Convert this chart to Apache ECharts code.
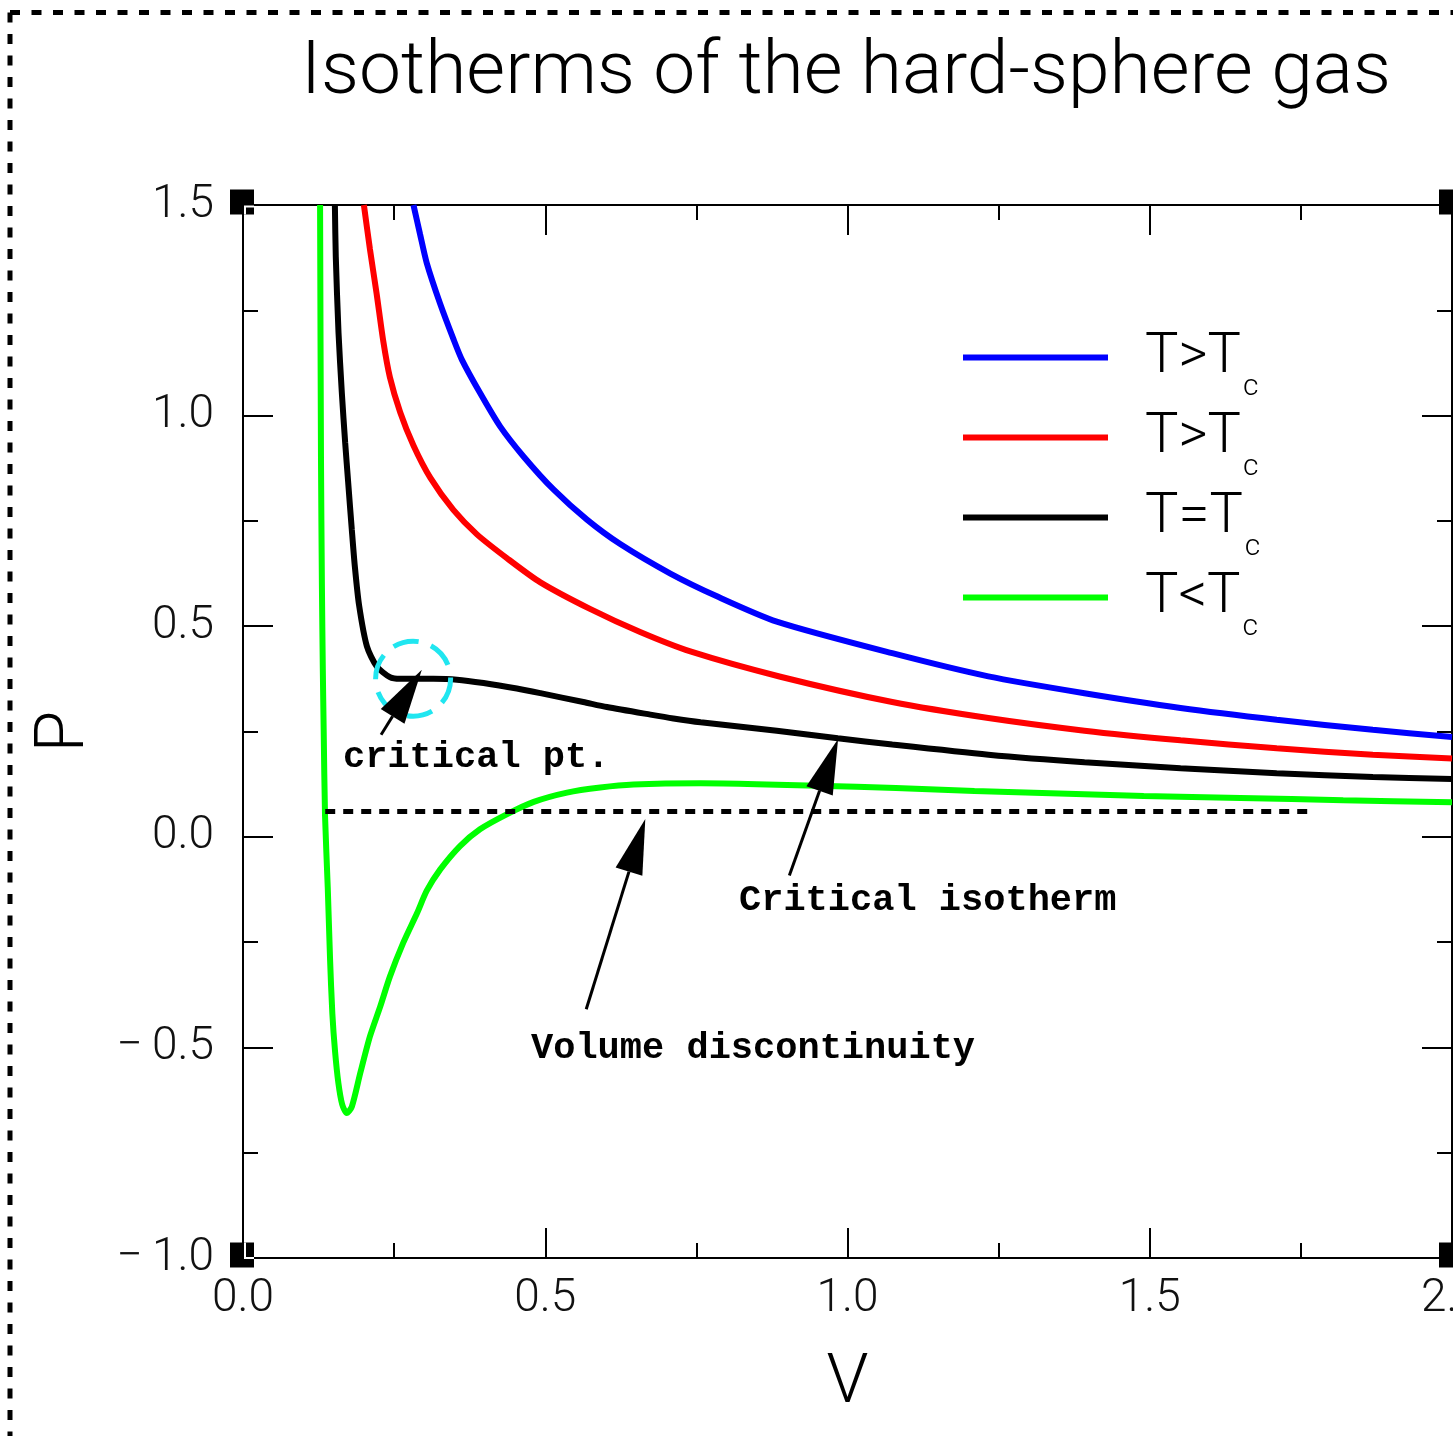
<!DOCTYPE html>
<html>
<head>
<meta charset="utf-8">
<title>Isotherms of the hard-sphere gas</title>
<script src="https://cdn.jsdelivr.net/npm/echarts@6/dist/echarts.min.js"></script>
<style>
  html, body { margin: 0; padding: 0; background: #fff; }
  #main { width: 1453px; height: 1436px; }
</style>
</head>
<body>
<div id="main"></div>
<script>
// isotherms: V (volume) and P (pressure)
var hotV  = [0.282, 0.293, 0.304, 0.326, 0.348, 0.362, 0.392, 0.425, 0.464, 0.514, 0.569, 0.624, 0.707, 0.784, 0.883, 1.074, 1.233, 1.392, 1.551, 1.710, 1.869, 2.0];
var hotP  = [1.5, 1.430, 1.362, 1.266, 1.182, 1.133, 1.054, 0.975, 0.903, 0.824, 0.753, 0.695, 0.625, 0.571, 0.511, 0.436, 0.381, 0.341, 0.306, 0.278, 0.254, 0.237];

var warmV = [0.200, 0.210, 0.221, 0.232, 0.243, 0.260, 0.282, 0.310, 0.348, 0.387, 0.437, 0.492, 0.574, 0.657, 0.740, 0.889, 1.074, 1.233, 1.392, 1.551, 1.710, 1.869, 2.0];
var warmP = [1.5, 1.395, 1.290, 1.177, 1.091, 1.008, 0.929, 0.852, 0.776, 0.718, 0.661, 0.604, 0.541, 0.486, 0.440, 0.380, 0.320, 0.282, 0.252, 0.229, 0.210, 0.195, 0.186];

var critV = [0.152, 0.1535, 0.158, 0.1635, 0.169, 0.174, 0.180, 0.185, 0.192, 0.205, 0.221, 0.243, 0.260, 0.315, 0.354, 0.398, 0.453, 0.492, 0.563, 0.602, 0.674, 0.712, 0.757, 0.883, 0.984, 1.074, 1.233, 1.392, 1.551, 1.710, 1.869, 2.0];
var critP = [1.5, 1.377, 1.197, 1.054, 0.936, 0.841, 0.729, 0.642, 0.550, 0.452, 0.405, 0.379, 0.375, 0.375, 0.373, 0.365, 0.352, 0.341, 0.320, 0.308, 0.290, 0.281, 0.272, 0.252, 0.234, 0.219, 0.195, 0.177, 0.163, 0.151, 0.142, 0.137];

var coldV = [0.1275, 0.1290, 0.1305, 0.1320, 0.1335, 0.1357, 0.1402, 0.1440, 0.1478, 0.1523, 0.1578, 0.1640, 0.1716, 0.180, 0.194, 0.210, 0.227, 0.243, 0.265, 0.288, 0.304, 0.326, 0.359, 0.392, 0.437, 0.481, 0.536, 0.591, 0.646, 0.757, 0.850, 0.950, 1.080, 1.210, 1.350, 1.490, 1.650, 1.820, 2.0];
var coldP = [1.5, 0.9, 0.6, 0.40, 0.25, 0.05, -0.12, -0.29, -0.42, -0.51, -0.585, -0.635, -0.656, -0.641, -0.561, -0.474, -0.403, -0.332, -0.252, -0.181, -0.128, -0.078, -0.022, 0.018, 0.054, 0.083, 0.105, 0.117, 0.124, 0.127, 0.125, 0.121, 0.116, 0.109, 0.103, 0.097, 0.092, 0.087, 0.082];

// the dashed volume discontinuity
var discV = [0.136, 1.766];
var discP = [0.06, 0.06];

var legendLabels = { hot: 'T>T', warm: 'T>T', crit: 'T=T', cold: 'T<T' };

// annotation arrows, [tail, tip] in data units
var arrows = [
    [[0.2284, 0.2423], [0.2958, 0.3967]],
    [[0.9038, -0.0919], [0.9844, 0.2321]],
    [[0.5678, -0.4093], [0.6655, 0.0420]]
];
var critCircle = [0.2814, 0.3753];

var thin = 'Roboto, "Liberation Sans", sans-serif';

function pairs(xs, ys) {
    return xs.map(function (x, i) { return [x, ys[i]]; });
}
function tickFmt(v) {
    return v.toFixed(1).replace('-', '\u2212\u2009');
}

function curve(name, color, xs, ys) {
    return {
        name: name,
        type: 'line',
        data: pairs(xs, ys),
        showSymbol: false,
        symbol: 'none',
        smooth: 0.25,
        lineStyle: { color: color, width: 6 },
        itemStyle: { color: color },
        emphasis: { disabled: true }
    };
}

function axisCommon(pos, min, max) {
    return {
        type: 'value',
        position: pos,
        min: min,
        max: max,
        interval: 0.5,
        axisLine: { show: true, onZero: false, lineStyle: { color: '#000', width: 2 } },
        axisTick: { show: true, inside: true, length: 30, lineStyle: { color: '#000', width: 2 } },
        minorTick: { show: true, splitNumber: 2, length: 15, lineStyle: { color: '#000', width: 2 } },
        splitLine: { show: false },
        axisLabel: { show: false }
    };
}

var xMain = axisCommon('bottom', 0, 2);
xMain.axisLabel = { show: true, margin: 18, color: '#111', fontSize: 46, fontFamily: thin, fontWeight: 300, formatter: tickFmt };
xMain.name = 'V';
xMain.nameLocation = 'middle';
xMain.nameGap = 93;
xMain.nameTextStyle = { fontSize: 68, fontFamily: thin, fontWeight: 300, color: '#000' };

var yMain = axisCommon('left', -1, 1.5);
yMain.axisLabel = { show: true, margin: 29, color: '#111', fontSize: 46, fontFamily: thin, fontWeight: 300, formatter: tickFmt };
yMain.name = 'P';
yMain.nameLocation = 'middle';
yMain.nameRotate = 90;
yMain.nameGap = 143;
yMain.nameTextStyle = { fontSize: 68, fontFamily: thin, fontWeight: 300, color: '#000' };

var chart = echarts.init(document.getElementById('main'));

var option = {
    backgroundColor: '#fff',
    animation: false,
    title: {
        text: 'Isotherms of the hard-sphere gas',
        left: 846,
        top: 37,
        padding: 0,
        textAlign: 'center',
        textStyle: { fontSize: 75, fontFamily: thin, fontWeight: 300, color: '#000' }
    },
    grid: { left: 243, right: 1, top: 205, bottom: 178, containLabel: false, outerBoundsMode: 'none' },
    legend: {
        data: ['hot', 'warm', 'crit', 'cold'],
        orient: 'vertical',
        left: 963,
        top: 313,
        padding: 0,
        itemWidth: 145,
        itemHeight: 6,
        itemGap: -9,
        icon: 'rect',
        selectedMode: false,
        formatter: function (name) {
            return '{t|' + legendLabels[name] + '}{s|c}';
        },
        textStyle: {
            rich: {
                t: { fontSize: 56, lineHeight: 60, fontFamily: thin, fontWeight: 300, color: '#000', padding: [0, 0, 0, 32] },
                s: { fontSize: 30, lineHeight: 30, fontFamily: thin, fontWeight: 300, color: '#000', padding: [59, 0, 0, 2] }
            }
        }
    },
    xAxis: [xMain, axisCommon('top', 0, 2)],
    yAxis: [yMain, axisCommon('right', -1, 1.5)],
    series: [
        curve('hot', '#0000ff', hotV, hotP),
        curve('warm', '#ff0000', warmV, warmP),
        curve('crit', '#000000', critV, critP),
        curve('cold', '#00ff00', coldV, coldP),
        {
            name: 'discontinuity',
            type: 'line',
            data: pairs(discV, discP),
            showSymbol: false,
            symbol: 'none',
            lineStyle: { color: '#000', width: 5, type: [10, 8] },
            emphasis: { disabled: true },
            z: 3
        }
    ]
};
chart.setOption(option);

// annotations placed from data coordinates
function px(p) {
    return chart.convertToPixel({ gridIndex: 0 }, p);
}

var elements = [];

// dashed frame round the figure
elements.push({ type: 'line', z: 100, shape: { x1: 10, y1: 12.5, x2: 1453, y2: 12.5 }, style: { stroke: '#000', lineWidth: 5, lineDash: [10, 11.5] } });
elements.push({ type: 'line', z: 100, shape: { x1: 10, y1: 12.5, x2: 10, y2: 1436 }, style: { stroke: '#000', lineWidth: 5, lineDash: [10, 11.5] } });

// corner markers
var corners = [px([0, 1.5]), px([2, 1.5]), px([0, -1]), px([2, -1])];
corners.forEach(function (c, i) {
    elements.push({ type: 'rect', z: 100, shape: { x: c[0] - 13, y: c[1] - 15.5, width: 24, height: 25 }, style: { fill: '#000' } });
    var pts = i < 2
        ? [[c[0] + 2, c[1] + 9.5], [c[0] + 2, c[1] + 1.5], [c[0] + 11, c[1] + 1.5]]
        : [[c[0] + 2, c[1] - 15.5], [c[0] + 2, c[1]], [c[0] + 11, c[1]]];
    elements.push({ type: 'polyline', z: 101, shape: { points: pts }, style: { stroke: '#fff', lineWidth: 2, fill: null } });
});

// cyan dashed circle round the critical point
var cc = px(critCircle);
elements.push({ type: 'circle', z: 100, shape: { cx: cc[0], cy: cc[1], r: 37.5 }, style: { fill: null, stroke: '#20e6f0', lineWidth: 5, lineDash: [26, 13] } });

arrows.forEach(function (a) {
    var t = px(a[0]), h = px(a[1]);
    var dx = h[0] - t[0], dy = h[1] - t[1];
    var len = Math.sqrt(dx * dx + dy * dy);
    var ux = dx / len, uy = dy / len;
    var bx = h[0] - ux * 55, by = h[1] - uy * 55;
    elements.push({ type: 'line', z: 102, shape: { x1: t[0], y1: t[1], x2: bx, y2: by }, style: { stroke: '#000', lineWidth: 3 } });
    elements.push({ type: 'polygon', z: 102, shape: { points: [[h[0], h[1]], [bx - uy * 14, by + ux * 14], [bx + uy * 14, by - ux * 14]] }, style: { fill: '#000' } });
});

var mono = 'bold 37px "Liberation Mono", "DejaVu Sans Mono", monospace';
elements.push({ type: 'text', z: 102, x: 343, y: 758, style: { text: 'critical pt.', font: mono, fill: '#000', verticalAlign: 'middle' } });
elements.push({ type: 'text', z: 102, x: 739, y: 901, style: { text: 'Critical isotherm', font: mono, fill: '#000', verticalAlign: 'middle' } });
elements.push({ type: 'text', z: 102, x: 531, y: 1049, style: { text: 'Volume discontinuity', font: mono, fill: '#000', verticalAlign: 'middle' } });

chart.setOption({ graphic: { elements: elements } });
</script>
</body>
</html>
